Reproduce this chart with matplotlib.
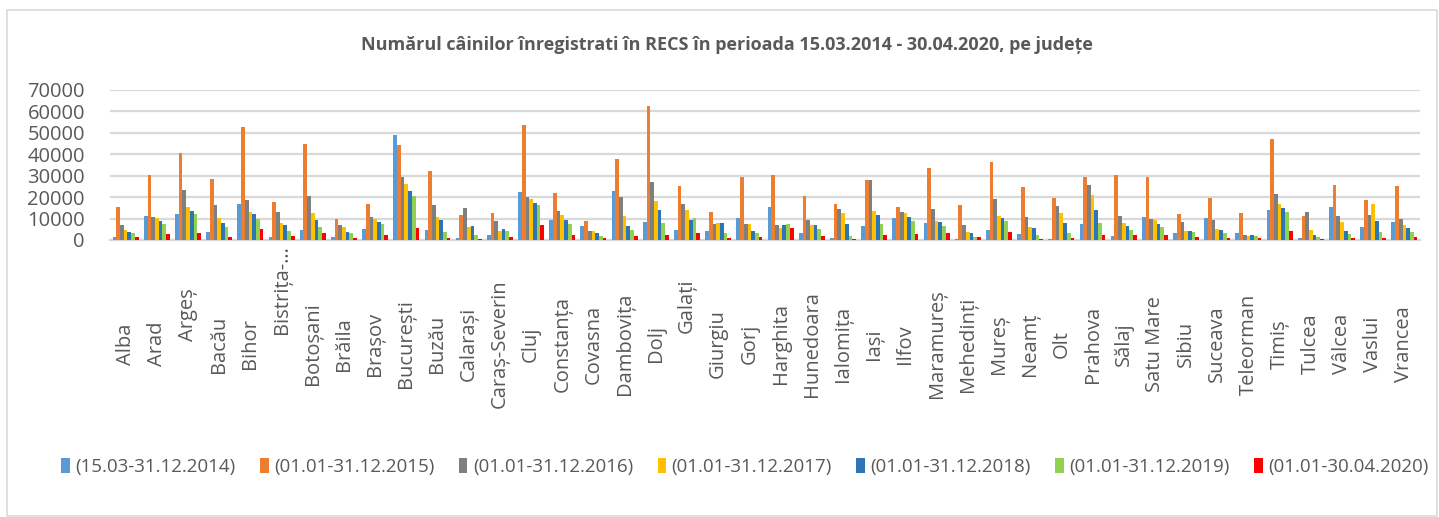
import numpy as np
import matplotlib.pyplot as plt
import matplotlib.transforms as mtransforms
from matplotlib.patches import Rectangle

plt.rcParams['font.family'] = ['Open Sans', 'DejaVu Sans']

# counties (x categories)
judete = ['Alba', 'Arad', 'Argeș', 'Bacău', 'Bihor', 'Bistrița-…', 'Botoșani', 'Brăila',
          'Brașov', 'București', 'Buzău', 'Calarași', 'Caraș-Severin', 'Cluj', 'Constanța',
          'Covasna', 'Dambovița', 'Dolj', 'Galați', 'Giurgiu', 'Gorj', 'Harghita', 'Hunedoara',
          'Ialomița', 'Iași', 'Ilfov', 'Maramureș', 'Mehedinți', 'Mureș', 'Neamț', 'Olt',
          'Prahova', 'Sălaj', 'Satu Mare', 'Sibiu', 'Suceava', 'Teleorman', 'Timiș', 'Tulcea',
          'Vâlcea', 'Vaslui', 'Vrancea']

# registered dogs per period
p2014 = [1500, 11200, 12100, 3700, 16800, 1200, 4700, 1200, 5300, 48800, 4700, 1100, 2300,
         22500, 9300, 6500, 22900, 8600, 4500, 4000, 10400, 15600, 3300, 1100, 6700, 10400,
         7900, 500, 4500, 2600, 500, 7600, 1900, 10700, 3100, 10300, 3400, 14200, 1100,
         15400, 5900, 8200]
p2015 = [15500, 30200, 40400, 28500, 52600, 17600, 44800, 9600, 16800, 44200, 32300, 11700,
         12400, 53500, 21800, 8700, 37900, 62500, 25300, 12900, 29400, 30200, 20700, 16800,
         28100, 15400, 33600, 16200, 36200, 24600, 19400, 29200, 30500, 29200, 12300, 19400,
         12600, 47100, 11000, 25700, 18500, 25300]
p2016 = [7000, 10900, 23300, 16300, 18700, 12900, 20400, 6800, 10700, 29500, 16200, 14800,
         8700, 20100, 13500, 4200, 20100, 26900, 16800, 7600, 7500, 7200, 9300, 14500, 28100,
         13100, 14500, 7000, 19100, 10700, 15900, 25500, 11000, 9800, 8400, 9300, 2500,
         21500, 13200, 11000, 11700, 9800]
p2017 = [4700, 10400, 15200, 10400, 13100, 7800, 12800, 5900, 9600, 26000, 10700, 6100, 4400,
         19000, 11700, 4000, 11000, 18200, 14000, 7800, 7500, 5600, 7000, 12400, 13400, 12400,
         8900, 3700, 11200, 6200, 12400, 21000, 7800, 9300, 4400, 5300, 1900, 16800, 4700,
         8200, 16600, 6800]
p2018 = [3900, 9000, 13500, 7800, 12000, 6800, 9300, 3900, 8400, 23000, 9300, 6700, 5000,
         17100, 9300, 3100, 6400, 13800, 9300, 8100, 4200, 7200, 6800, 7500, 11700, 10900,
         8400, 3100, 10300, 5400, 8100, 14000, 6700, 7300, 4200, 4800, 2300, 14800, 2200,
         4200, 9000, 5800]
p2019 = [3100, 7500, 12100, 6100, 9800, 4200, 6100, 3300, 7300, 20400, 3600, 2300, 4000,
         16200, 7300, 2000, 4500, 8100, 10300, 3100, 3300, 7300, 5300, 1900, 7300, 8700,
         6400, 1600, 9000, 2500, 3100, 7900, 4700, 6200, 3600, 3300, 1900, 12900, 1200,
         3000, 3600, 3700]
p2020 = [1300, 2800, 3100, 1600, 5100, 1900, 3100, 900, 2200, 5800, 800, 600, 1600, 6800,
         2300, 900, 1900, 2200, 3300, 900, 1400, 5400, 1900, 500, 2200, 2800, 3100, 1600,
         3900, 600, 900, 2500, 2300, 2300, 1200, 900, 800, 4200, 500, 900, 900, 1200]

perioade = ['(15.03-31.12.2014)', '(01.01-31.12.2015)', '(01.01-31.12.2016)',
            '(01.01-31.12.2017)', '(01.01-31.12.2018)', '(01.01-31.12.2019)',
            '(01.01-30.04.2020)']
serii = [p2014, p2015, p2016, p2017, p2018, p2019, p2020]
culori = ['#5B9BD5', '#ED7D31', '#7F7F7F', '#FFC000', '#2E75B6', '#92D050', '#FF0000']

text_col = '#595959'
grid_col = '#D9D9D9'

fig = plt.figure(figsize=(14.39, 5.17), dpi=100)
ax = fig.add_axes([110 / 1439, 1 - 240 / 517, 1310 / 1439, 150 / 517])

# chart border
fig.patches.append(Rectangle((7 / 1439, 0.002), 1430 / 1439, 1 - 10 / 517 - 0.002,
                             transform=fig.transFigure, fill=False,
                             edgecolor=grid_col, linewidth=1.2))

x = np.arange(len(judete))
w = 0.119
for j, (vals, c, lab) in enumerate(zip(serii, culori, perioade)):
    ax.bar(x + (j - 3) * w, vals, width=w, color=c, label=lab, zorder=3)

ax.set_xlim(-0.5, len(judete) - 0.5)
ax.set_ylim(0, 70000)
ax.set_yticks(range(0, 70001, 10000))
ax.yaxis.grid(True, color=grid_col, linewidth=1.6, zorder=0)
ax.set_axisbelow(True)
for s in ['top', 'right', 'left']:
    ax.spines[s].set_visible(False)
ax.spines['bottom'].set_color(grid_col)
ax.spines['bottom'].set_linewidth(1.6)
ax.tick_params(axis='y', length=0, pad=18, labelsize=14.5, labelcolor=text_col)
ax.tick_params(axis='x', length=0, labelbottom=False)

# county labels, rotated and centered in the label band
trans = mtransforms.blended_transform_factory(ax.transData, ax.transAxes)
ridicare = {'Argeș': 29, 'Bistrița-…': 54, 'Galați': 38}
for i, nume in enumerate(judete):
    yc = (240 - 344 + ridicare.get(nume, 0)) / 150
    ax.text(i, yc, nume, rotation=90, ha='center', va='center', transform=trans,
            fontsize=14.5, color=text_col)

fig.text(727 / 1439, 1 - 45 / 517,
         'Numărul câinilor înregistrati în RECS în perioada 15.03.2014 - 30.04.2020, pe județe',
         ha='center', va='center', fontsize=13, fontweight='bold', color=text_col)

fig.legend(loc='center', bbox_to_anchor=(745 / 1439, 1 - 467 / 517), ncol=7, frameon=False,
           fontsize=13.5, labelcolor=text_col, handlelength=0.45, handleheight=0.9,
           handletextpad=0.3, columnspacing=1.3)

fig.savefig('out.png', dpi=100)
